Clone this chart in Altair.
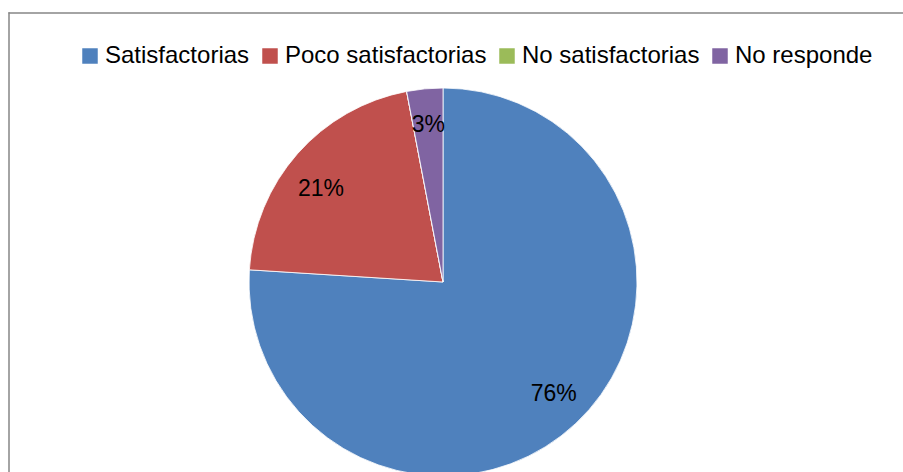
import altair as alt
import pandas as pd

categories = ["Satisfactorias", "Poco satisfactorias", "No satisfactorias", "No responde"]
values = [76, 21, 0, 3]
labels = ["76%", "21%", "", "3%"]
colors = ["#4F81BD", "#C0504D", "#9BBB59", "#8064A2"]

df = pd.DataFrame({
    "cat": categories,
    "val": values,
    "lab": labels,
    "idx": list(range(len(categories))),
})

CX, CY, R = 443, 282, 194

color = alt.Color(
    "cat:N",
    scale=alt.Scale(domain=categories, range=colors),
    legend=alt.Legend(
        title=None,
        orient="none",
        direction="horizontal",
        legendX=78,
        legendY=44,
        symbolType="square",
        symbolSize=240,
        symbolStrokeWidth=0,
        labelFont="Liberation Sans",
        labelFontSize=24,
        labelColor="#000000",
        labelOffset=3,
        columnPadding=8,
        labelLimit=400,
        padding=0,
    ),
)

base = alt.Chart(df)

arcs = base.mark_arc(outerRadius=R, stroke="#ffffff", strokeWidth=0.8).encode(
    theta=alt.Theta("val:Q", stack=True),
    color=color,
    order=alt.Order("idx:Q"),
    x=alt.value(CX),
    y=alt.value(CY),
)

# per-label nudges (Excel places labels not exactly on one radius)
nudges = {"76%": (4, -2), "21%": (-5, 10), "3%": (0, -2)}
text_layers = []
for lab, (ddx, ddy) in nudges.items():
    text_layers.append(
        base.mark_text(
            radius=156, font="Liberation Sans", fontSize=23, color="#000000",
            align="center", baseline="middle", dx=ddx, dy=ddy,
        ).encode(
            theta=alt.Theta("val:Q", stack=True),
            text="lab:N",
            order=alt.Order("idx:Q"),
            x=alt.value(CX),
            y=alt.value(CY),
            opacity=alt.condition(alt.datum.lab == lab, alt.value(1), alt.value(0)),
        )
    )

border_top = alt.Chart(pd.DataFrame({"a": [0]})).mark_rule(
    color="#868686", strokeWidth=1.5
).encode(x=alt.value(8.5), x2=alt.value(903), y=alt.value(13))

border_left = alt.Chart(pd.DataFrame({"a": [0]})).mark_rule(
    color="#868686", strokeWidth=1.5
).encode(x=alt.value(9), y=alt.value(12.3), y2=alt.value(472))

chart = alt.layer(border_top, border_left, arcs, *text_layers).properties(
    width=903, height=472, padding=0, autosize=alt.AutoSizeParams(type="none"),
    background="#ffffff",
).configure_view(stroke=None)

chart.save("out.html", embed_options={"renderer": "svg", "actions": False})
